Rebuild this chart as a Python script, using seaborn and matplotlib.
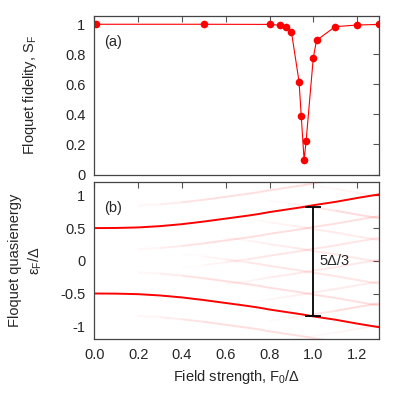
import numpy as np
import pandas as pd
import matplotlib
matplotlib.use("Agg")
import matplotlib.pyplot as plt
from matplotlib.collections import LineCollection
import seaborn as sns

# ---- data: panel (a) Floquet fidelity ----
fid_x = [0.01, 0.5, 0.8, 0.85, 0.875, 0.9, 0.935, 0.945, 0.958, 0.967, 1.0, 1.015, 1.1, 1.2, 1.3]
fid_y = [1.0, 1.0, 0.999, 0.993, 0.984, 0.951, 0.617, 0.388, 0.096, 0.220, 0.778, 0.893, 0.984, 0.995, 0.999]

# ---- data: panel (b) main quasienergy band (upper branch, lower = mirror) ----
band_x = [0.0, 0.1, 0.2, 0.3, 0.4, 0.5, 0.6, 0.7, 0.75, 0.8, 0.9, 0.95, 1.0, 1.1, 1.2, 1.3]
band_E = [0.50, 0.502, 0.51, 0.53, 0.56, 0.60, 0.645, 0.69, 0.715, 0.745, 0.795, 0.82, 0.85, 0.90, 0.96, 1.015]
photon = 1.0 / 3.0          # replica spacing (Delta/3)
replica_orders = [1, 2, 3, 4, 5, 6]
replica_start = {1: 0.15, 2: 0.4, 3: 0.55, 4: 0.65, 5: 0.8, 6: 0.9}
replica_alpha = {1: 0.13, 2: 0.10, 3: 0.09, 4: 0.08, 5: 0.14, 6: 0.06}

gap_x = 1.0
gap_lo, gap_hi = -0.837, 0.827
gap_label = "5Δ/3"

xticks = [0.0, 0.2, 0.4, 0.6, 0.8, 1.0, 1.2]
yticks_a = [0, 0.2, 0.4, 0.6, 0.8, 1]
yticks_b = [-1, -0.5, 0, 0.5, 1]

sns.set_theme(style="white")
plt.rcParams['font.family'] = ['Liberation Sans', 'DejaVu Sans']
plt.rcParams['mathtext.fontset'] = 'custom'
plt.rcParams['mathtext.rm'] = 'Liberation Sans'
plt.rcParams['mathtext.it'] = 'Liberation Sans'
FS = 10.5

fig = plt.figure(figsize=(3.95, 4.01), dpi=100)
W, H = 395, 401
axa = fig.add_axes([94.3 / W, 1 - 174.5 / H, (379 - 94.3) / W, (174.5 - 15.7) / H])
axb = fig.add_axes([94.3 / W, 1 - 339.3 / H, (379 - 94.3) / W, (339.3 - 182.3) / H])

RED = "#ff0000"
# panel (a)
dfa = pd.DataFrame({"x": fid_x, "y": fid_y})
sns.lineplot(data=dfa, x="x", y="y", ax=axa, color=RED, lw=0.8, marker="o",
             markersize=5.5, markeredgewidth=0, estimator=None, sort=False)
axa.set_xlim(0, 1.3)
axa.set_ylim(0, 1.057)
axa.set_yticks(yticks_a)
axa.set_yticklabels(["0", "0.2", "0.4", "0.6", "0.8", "1"])
axa.set_xticks(xticks)
axa.set_xticklabels([])
axa.set_xlabel("")
axa.set_ylabel("Floquet fidelity, S$_\\mathregular{F}$", fontsize=FS)
axa.text(0.033, 0.834, "(a)", transform=axa.transAxes, fontsize=FS, ha="left", va="center")

# panel (b): faint replicas
bx = np.array(band_x)
bE = np.array(band_E)
for s in (1, -1):
    for n in replica_orders:
        for sign_n in (1, -1):
            yv = s * bE + sign_n * n * photon
            if np.all(np.abs(yv) > 1.25):
                continue
            segs, cols = [], []
            for i in range(len(bx) - 1):
                xm = 0.5 * (bx[i] + bx[i + 1])
                a = replica_alpha[n] * np.clip((xm - replica_start[n]) / 0.35, 0, 1)
                if a <= 0:
                    continue
                segs.append([(bx[i], yv[i]), (bx[i + 1], yv[i + 1])])
                cols.append((1.0, 0.0, 0.0, a))
            if segs:
                axb.add_collection(LineCollection(segs, colors=cols, linewidths=1.4))

dfb = pd.DataFrame({"x": np.concatenate([bx, bx]),
                    "y": np.concatenate([bE, -bE]),
                    "branch": ["up"] * len(bx) + ["down"] * len(bx)})
sns.lineplot(data=dfb, x="x", y="y", units="branch", estimator=None, ax=axb,
             color=RED, lw=1.4, sort=False)
axb.errorbar([gap_x], [0.5 * (gap_lo + gap_hi)], yerr=[[0.5 * (gap_hi - gap_lo)], [0.5 * (gap_hi - gap_lo)]],
             fmt="none", ecolor="black", elinewidth=1.3, capsize=5.5, capthick=1.3)
axb.text(1.027, 0.0, gap_label, fontsize=FS, ha="left", va="center")
axb.text(0.033, 0.836, "(b)", transform=axb.transAxes, fontsize=FS, ha="left", va="center")
axb.set_xlim(0, 1.3)
axb.set_ylim(-1.2, 1.2)
axb.set_xticks(xticks)
axb.set_xticklabels([f"{v:.1f}" for v in xticks])
axb.set_yticks(yticks_b)
axb.set_yticklabels(["-1", "-0.5", "0", "0.5", "1"])
axb.set_xlabel("Field strength, F$_\\mathregular{0}$/Δ", fontsize=FS)
axb.set_ylabel("Floquet quasienergy\nε$_\\mathregular{F}$/Δ", fontsize=FS, linespacing=1.3)

for ax in (axa, axb):
    ax.tick_params(direction="in", length=4, width=0.8, top=True, right=True,
                   labelsize=FS, color="#555555", pad=6.5)
    for sp in ax.spines.values():
        sp.set_color("#444444")
        sp.set_linewidth(0.9)
    ax.grid(False)

axa.yaxis.set_label_coords(-0.195, 0.5)
axb.yaxis.set_label_coords(-0.178, 0.5)

fig.savefig("out.png", dpi=100)
